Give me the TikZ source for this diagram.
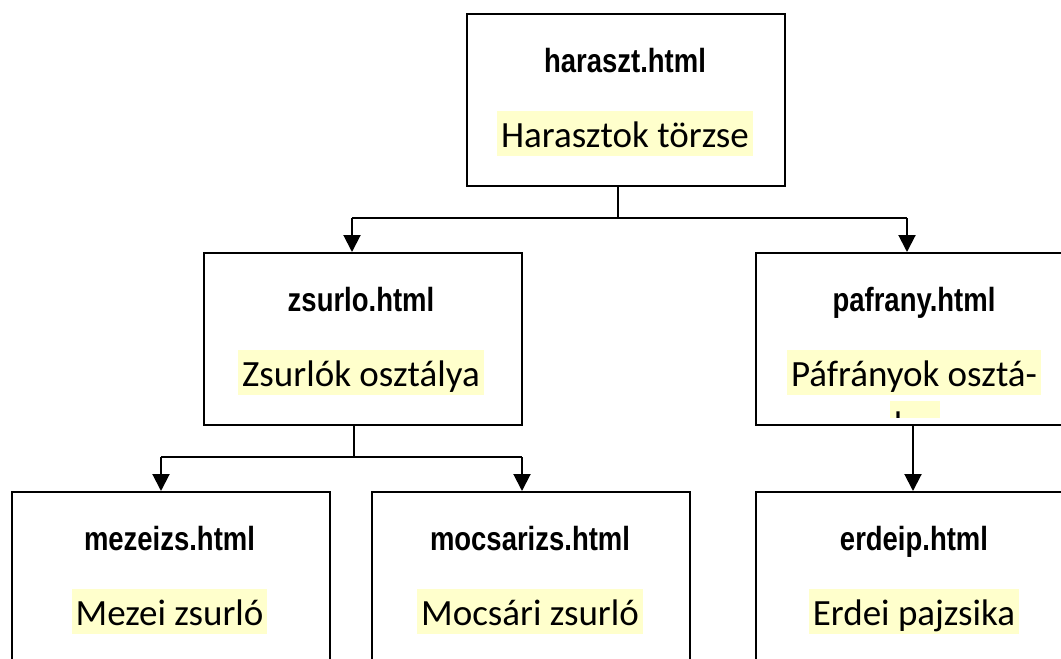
\documentclass[tikz,border=0pt]{standalone}
\usepackage{fontspec}
\usetikzlibrary{arrows.meta,calc}
\newfontfamily\hdrfont{Liberation Sans Bold}[FakeStretch=0.82]
\newfontfamily\lblfont{Carlito}
\definecolor{hl}{HTML}{FFFFCC}
\tikzset{
  box/.style={draw=black, line width=2pt, minimum width=318pt, inner sep=0pt, anchor=north west},
  hdr/.style={anchor=base, inner sep=0pt, font=\hdrfont\fontsize{33.5}{40}\selectfont},
  lbl/.style={anchor=base, fill=hl, inner xsep=4pt, inner ysep=0pt, text height=36pt, text depth=9pt,
              font=\lblfont\fontsize{37}{45}\selectfont},
  conn/.style={line width=2pt},
  arr/.style={line width=2pt, -{Triangle[width=17pt,length=17pt]}}
}
\begin{document}
\begin{tikzpicture}[x=1pt,y=-1pt]
\useasboundingbox (0,0) rectangle (1061,659);
\clip (0,0) rectangle (1061,659);
% boxes
\node[box, minimum height=172pt] (top) at (466,13) {};
\node[box, minimum height=172pt] (zs) at (203,252) {};
\node[box, minimum height=172pt] (pf) at (755,252) {};
\node[box, minimum height=260pt] (mz) at (11,491) {};
\node[box, minimum height=260pt] (mc) at (371,491) {};
\node[box, minimum height=260pt] (ed) at (755,491) {};
% texts
\node[hdr] (topH) at (625,72) {haraszt.html};
\node[lbl] (topL) at (625,147) {Harasztok törzse};
\node[hdr] (zsH) at (361,311) {zsurlo.html};
\node[lbl] (zsL) at (361,386) {Zsurlók osztálya};
\node[hdr] (pfH) at (914,311) {pafrany.html};
\node[lbl] (pfL) at (914,386) {Páfrányok osztá-};
\begin{scope}
\clip (757,254) rectangle (1061,417);
\node[lbl] (pfL2) at (915,437) {lya};
\end{scope}
\node[hdr] (mzH) at (169.5,550) {mezeizs.html};
\node[lbl] (mzL) at (169.5,625) {Mezei zsurló};
\node[hdr] (mcH) at (530,550) {mocsarizs.html};
\node[lbl] (mcL) at (530,625) {Mocsári zsurló};
\node[hdr] (edH) at (914,550) {erdeip.html};
\node[lbl] (edL) at (914,625) {Erdei pajzsika};
% connectors
\coordinate (j1) at (618,218);
\coordinate (j1l) at (352,218);
\coordinate (j1r) at (907,218);
\draw[conn] (j1 |- top.south) -- (j1);
\draw[conn] (j1l) -- (j1r);
\draw[arr] (j1l) -- (j1l |- zs.north);
\draw[arr] (j1r) -- (j1r |- pf.north);
\coordinate (j2) at (354,457);
\coordinate (j2l) at (161,457);
\coordinate (j2r) at (522,457);
\draw[conn] (j2 |- zs.south) -- (j2);
\draw[conn] (j2l) -- (j2r);
\draw[arr] (j2l) -- (j2l |- mz.north);
\draw[arr] (j2r) -- (j2r |- mc.north);
\coordinate (j3) at (913,424);
\draw[arr] (j3 |- pf.south) -- (j3 |- ed.north);
\end{tikzpicture}
\end{document}
